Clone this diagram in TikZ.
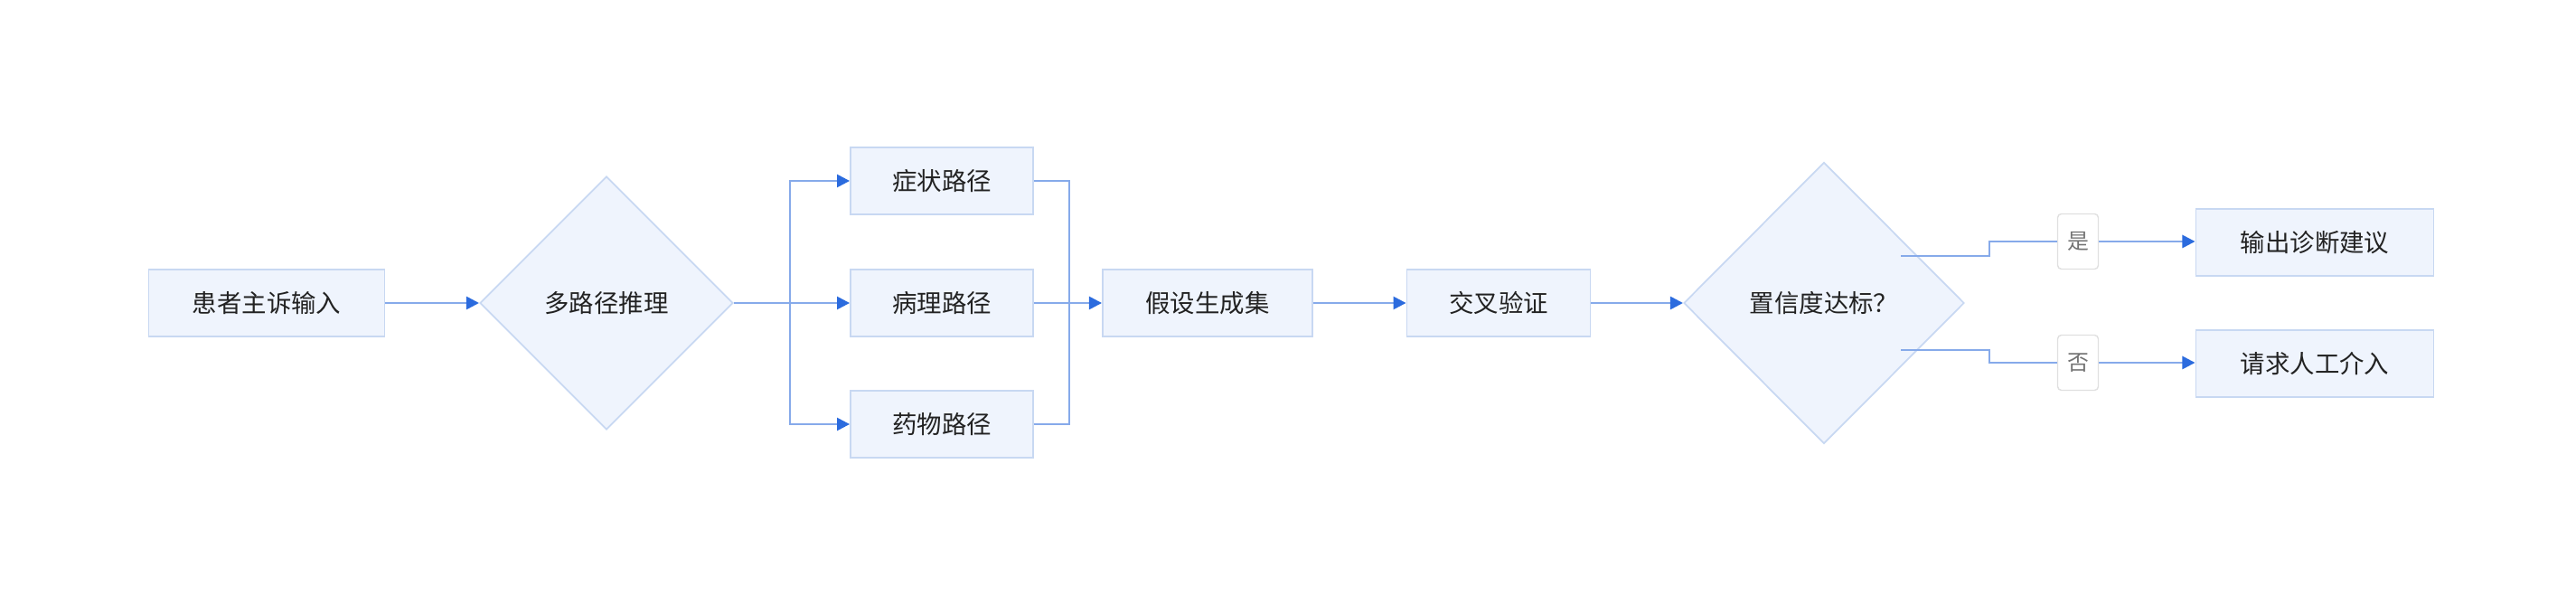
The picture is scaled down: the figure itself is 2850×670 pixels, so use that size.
\documentclass[tikz,border=0pt]{standalone}
\usepackage{fontspec}
\setmainfont{Noto Sans CJK SC}
\usetikzlibrary{shapes.geometric,arrows.meta}
\definecolor{nf}{HTML}{EFF4FD}
\definecolor{nb}{HTML}{C8D8F2}
\definecolor{ln}{HTML}{86AAEA}
\definecolor{ah}{HTML}{2B6BDE}
\definecolor{tx}{HTML}{222222}
\begin{document}
\begin{tikzpicture}[x=0.01cm,y=-0.01cm,
  box/.style={draw=nb,fill=nf,line width=0.5pt,minimum height=0.74cm,text=tx,font=\fontsize{7.8}{9}\selectfont,inner sep=0pt},
  dia/.style={draw=nb,fill=nf,line width=0.5pt,diamond,inner sep=0pt,text=tx,font=\fontsize{7.8}{9}\selectfont},
  lab/.style={draw=black!12,fill=white,rounded corners=1.2pt,minimum width=0.45cm,minimum height=0.61cm,inner sep=0pt,text=black!55,font=\fontsize{6.8}{8}\selectfont},
  ar/.style={draw=ln,line width=0.7pt,-{Triangle[length=4pt,width=4pt,color=ah]}},
  ln/.style={draw=ln,line width=0.7pt}]
\useasboundingbox (0,0) rectangle (2850,670);
\node[box,minimum width=2.61cm] (a) at (295,335) {患者主诉输入};
\node[draw=nb,fill=nf,line width=0.5pt,diamond,minimum width=2.8cm,minimum height=2.8cm,inner sep=0pt,text=tx,font=\fontsize{7.8}{9}\selectfont] (b) at (671,335) {};
\node[text=tx,font=\fontsize{7.8}{9}\selectfont] at (b.center) {多路径推理};
\node[box,minimum width=2.02cm] (p1) at (1042,200) {症状路径};
\node[box,minimum width=2.02cm] (p2) at (1042,335) {病理路径};
\node[box,minimum width=2.02cm] (p3) at (1042,469) {药物路径};
\node[box,minimum width=2.32cm] (h) at (1336,335) {假设生成集};
\node[box,minimum width=2.03cm] (v) at (1658,335) {交叉验证};
\node[draw=nb,fill=nf,line width=0.5pt,diamond,minimum width=3.1cm,minimum height=3.11cm,inner sep=0pt] (c) at (2018,335) {};
\node[text=tx,font=\fontsize{7.8}{9}\selectfont] at (c.center) {置信度达标？};
\node[box,minimum width=2.63cm] (y) at (2561,268) {输出诊断建议};
\node[box,minimum width=2.63cm] (n) at (2561,402) {请求人工介入};
\node[lab] (ly) at (2299,267) {是};
\node[lab] (lx) at (2299,401) {否};
\coordinate (s) at (874,335);
\coordinate (m) at (1183,335);
\draw[ar] (a) -- (b);
\draw[ln] (b.east) -- (s);
\draw[ar] (s) |- (p1.west);
\draw[ar] (s) -- (p2.west);
\draw[ar] (s) |- (p3.west);
\draw[ln] (p1.east) -| (m);
\draw[ln] (p3.east) -| (m);
\draw[ar] (p2.east) -- (h.west);
\draw[ar] (h) -- (v);
\draw[ar] (v) -- (c);
\draw[ln] (2103,283) -- (2201,283) -- (2201,267) -- (ly.west);
\draw[ln] (2103,387) -- (2201,387) -- (2201,401) -- (lx.west);
\draw[ar] (ly.east) -- (ly.east -| y.west);
\draw[ar] (lx.east) -- (lx.east -| n.west);
\end{tikzpicture}
\end{document}
